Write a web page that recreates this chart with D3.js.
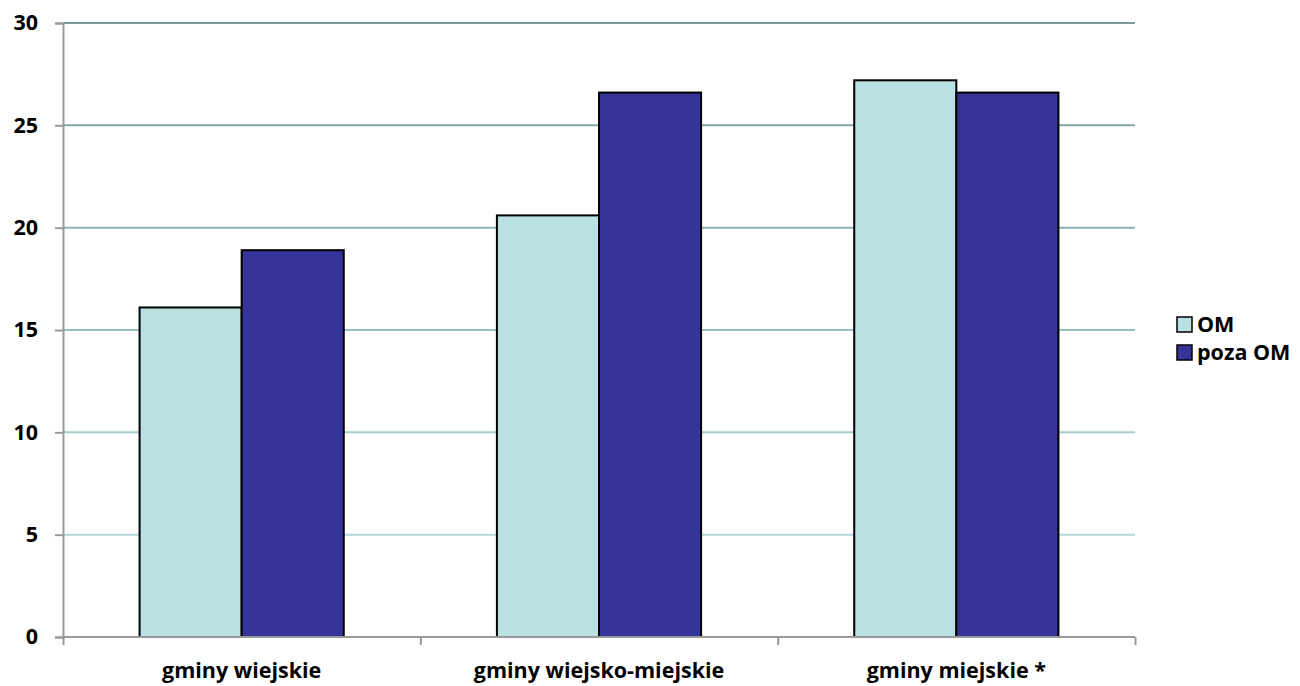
<!DOCTYPE html>
<html>
<head>
<meta charset="utf-8">
<script src="https://cdnjs.cloudflare.com/ajax/libs/d3/7.8.5/d3.min.js"></script>
<style>
  body { margin: 0; background: #fff; }
  text { font-family: "Open Sans", "Liberation Sans", sans-serif; font-weight: bold; fill: #000; }
</style>
</head>
<body>
<div class="chart"></div>
<script>
var categories = ['gminy wiejskie', 'gminy wiejsko-miejskie', 'gminy miejskie *'];
var seriesNames = ['OM', 'poza OM'];
var omValues = [16.1, 20.6, 27.2];
var pozaValues = [18.9, 26.6, 26.6];
var yTicks = [0, 5, 10, 15, 20, 25, 30];

const width = 1300
const height = 686
const margin = {left: 63, right: 165, top: 23, bottom: 49}
const colors = ['#b9e0e3', '#343499']
const fontSize = '21.5px'

let svg = d3.select('.chart')
  .append('svg')
  .attr('width', width)
  .attr('height', height)

let x = d3.scaleBand()
  .domain(categories)
  .range([margin.left, width - margin.right])

let y = d3.scaleLinear()
  .domain([0, 30])
  .range([height - margin.bottom, margin.top])

let inner = d3.scaleBand()
  .domain(seriesNames)
  .range([0, x.bandwidth()])
  .paddingOuter(0.75)

// gridlines fade from grey-teal at top to light blue at bottom
let gridColor = d3.scaleLinear().domain([5, 30]).range(['#b0d8dc', '#7a9898'])

svg.append('g')
  .selectAll('line')
  .data(yTicks.filter(d => d > 0))
  .enter()
  .append('line')
  .attr('x1', margin.left)
  .attr('x2', width - margin.right)
  .attr('y1', d => y(d))
  .attr('y2', d => y(d))
  .attr('stroke', d => gridColor(d))
  .attr('stroke-width', 2)

let rows = categories.map((c, i) => ({cat: c, vals: [omValues[i], pozaValues[i]]}))

svg.append('g')
  .selectAll('g')
  .data(rows)
  .enter()
  .append('g')
  .attr('transform', d => 'translate(' + x(d.cat) + ',0)')
  .selectAll('rect')
  .data(d => d.vals.map((v, j) => ({name: seriesNames[j], v: v, j: j})))
  .enter()
  .append('rect')
  .attr('x', d => inner(d.name))
  .attr('y', d => y(d.v))
  .attr('width', inner.bandwidth())
  .attr('height', d => y(0) - y(d.v))
  .attr('fill', d => colors[d.j])
  .attr('stroke', '#000')
  .attr('stroke-width', 2)

// y axis
let yAxis = svg.append('g')
  .attr('transform', 'translate(' + margin.left + ',0)')
  .call(d3.axisLeft(y).tickValues(yTicks).tickSize(8).tickPadding(17))
yAxis.select('.domain').attr('stroke', '#999').attr('stroke-width', 2)
yAxis.selectAll('.tick line').attr('stroke', '#999').attr('stroke-width', 2)
yAxis.selectAll('.tick text').style('font-size', fontSize)

// x axis
let xAxis = svg.append('g')
  .attr('transform', 'translate(0,' + y(0) + ')')
let xLine = d3.axisBottom(d3.scaleLinear().domain([0, 3]).range([margin.left, width - margin.right]))
  .tickValues([0, 1, 2, 3]).tickSize(8).tickFormat('')
xAxis.call(xLine)
xAxis.select('.domain').attr('stroke', '#999').attr('stroke-width', 2).attr('d', 'M' + margin.left + ',0H' + (width - margin.right))
xAxis.selectAll('.tick line').attr('stroke', '#999').attr('stroke-width', 2)

svg.append('g')
  .selectAll('text')
  .data(categories)
  .enter()
  .append('text')
  .attr('x', d => x(d) + x.bandwidth() / 2)
  .attr('y', y(0) + 41)
  .attr('text-anchor', 'middle')
  .style('font-size', fontSize)
  .text(d => d)

// legend
let legend = svg.append('g')
  .selectAll('g')
  .data(seriesNames)
  .enter()
  .append('g')
  .attr('transform', (d, i) => 'translate(1177,' + (317 + i * 28) + ')')
legend.append('rect')
  .attr('width', 15)
  .attr('height', 15)
  .attr('fill', (d, i) => colors[i])
  .attr('stroke', '#000')
  .attr('stroke-width', 1.5)
legend.append('text')
  .attr('x', 20)
  .attr('y', 15)
  .style('font-size', fontSize)
  .text(d => d)
</script>
</body>
</html>
